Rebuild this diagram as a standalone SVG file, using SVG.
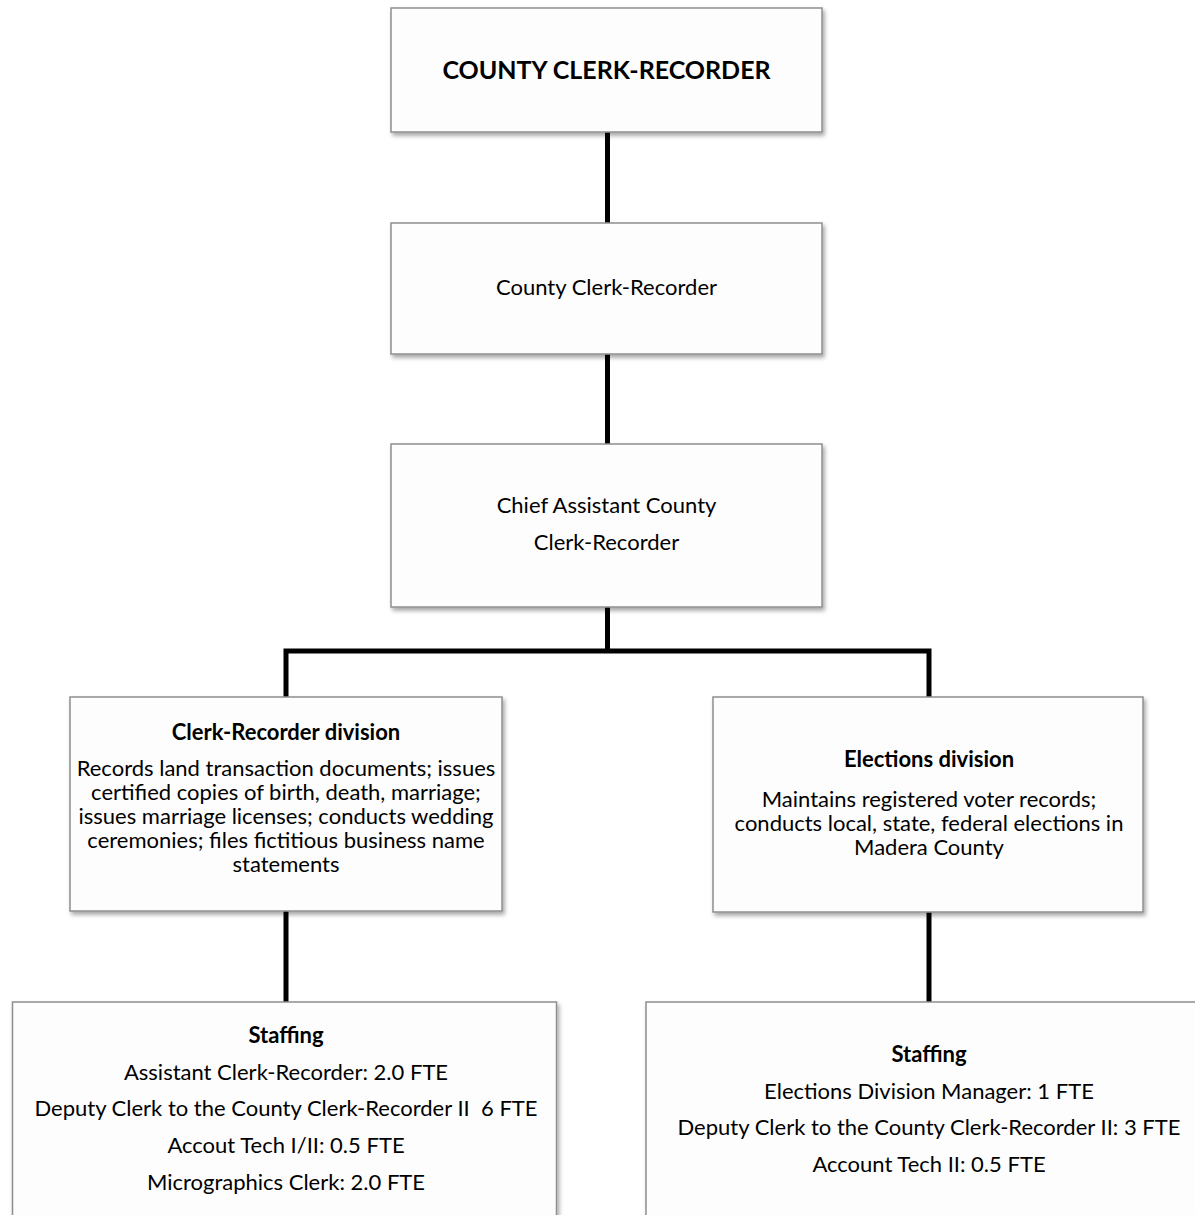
<svg xmlns="http://www.w3.org/2000/svg" width="1195" height="1215" viewBox="0 0 1195 1215">
<style>
.box{fill:#fdfdfd;stroke:#8e8e8e;stroke-width:1.5;filter:url(#sh)}
.t{font-family:Lato,"Open Sans","Liberation Sans",sans-serif;font-size:22px;fill:#000;text-anchor:middle}
.b{font-weight:bold}
.conn{fill:none;stroke:#000;stroke-width:5;stroke-linejoin:miter}
</style>
<defs>
<filter id="sh" x="-5%" y="-5%" width="115%" height="120%">
<feDropShadow dx="2" dy="3" stdDeviation="2" flood-color="#000" flood-opacity="0.35"/>
</filter>
</defs>
<rect width="1195" height="1215" fill="#fff"/>
<g id="connectors">
<path class="conn" d="M607.5 132 V223"/>
<path class="conn" d="M607.5 354 V444"/>
<path class="conn" d="M607.5 607 V651"/>
<path class="conn" d="M286 697 V651 H929 V697"/>
<path class="conn" d="M286 911 V1002"/>
<path class="conn" d="M929 911 V1002"/>
</g>
<g id="n-top">
<rect class="box" x="391" y="8" width="431" height="124"/>
<text class="t b" x="606.5" y="79" style="font-size:25px">COUNTY CLERK-RECORDER</text>
</g>
<g id="n-clerk">
<rect class="box" x="391" y="223" width="431" height="131"/>
<text class="t" x="606.5" y="295">County Clerk-Recorder</text>
</g>
<g id="n-chief">
<rect class="box" x="391" y="444" width="431" height="163"/>
<text class="t" x="606.5" y="513">Chief Assistant County</text>
<text class="t" x="606.5" y="550">Clerk-Recorder</text>
</g>
<g id="n-clerk-div">
<rect class="box" x="70" y="697" width="432" height="214"/>
<text class="t b" x="286" y="740">Clerk-Recorder division</text>
<text class="t" x="286" y="776">Records land transaction documents; issues</text>
<text class="t" x="286" y="800">certified copies of birth, death, marriage;</text>
<text class="t" x="286" y="824">issues marriage licenses; conducts wedding</text>
<text class="t" x="286" y="848">ceremonies; files fictitious business name</text>
<text class="t" x="286" y="872">statements</text>
</g>
<g id="n-elections-div">
<rect class="box" x="713" y="697" width="430" height="215"/>
<text class="t b" x="929" y="767">Elections division</text>
<text class="t" x="929" y="807">Maintains registered voter records;</text>
<text class="t" x="929" y="831">conducts local, state, federal elections in</text>
<text class="t" x="929" y="855">Madera County</text>
</g>
<g id="n-clerk-staff">
<rect class="box" x="12.5" y="1002" width="544" height="240"/>
<text class="t b" x="286" y="1043">Staffing</text>
<text class="t" x="286" y="1080">Assistant Clerk-Recorder: 2.0 FTE</text>
<text class="t" x="286" y="1116">Deputy Clerk to the County Clerk-Recorder II&#160; 6 FTE</text>
<text class="t" x="286" y="1153">Accout Tech I/II: 0.5 FTE</text>
<text class="t" x="286" y="1190">Micrographics Clerk: 2.0 FTE</text>
</g>
<g id="n-elections-staff">
<rect class="box" x="646" y="1002" width="570" height="240"/>
<text class="t b" x="929" y="1062">Staffing</text>
<text class="t" x="929" y="1099">Elections Division Manager: 1 FTE</text>
<text class="t" x="929" y="1135">Deputy Clerk to the County Clerk-Recorder II: 3 FTE</text>
<text class="t" x="929" y="1172">Account Tech II: 0.5 FTE</text>
</g>
</svg>
